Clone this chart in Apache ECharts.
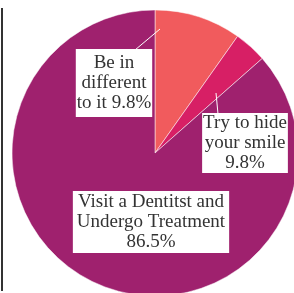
<!DOCTYPE html>
<html>
<head>
<meta charset="utf-8">
<script src="https://cdn.jsdelivr.net/npm/echarts@6/dist/echarts.min.js"></script>
<style>
  html, body { margin: 0; padding: 0; background: #fff; }
  #chart { width: 294px; height: 293px; }
</style>
</head>
<body>
<div id="chart"></div>
<script>
// responses, values in percent
const categories = ['Be in different to it', 'Try to hide your smile', 'Visit a Dentitst and Undergo Treatment'];
const values = [9.8, 3.7, 86.5];
const labelTexts = ['Be in\ndifferent\nto it 9.8%', 'Try to hide\nyour smile\n9.8%', 'Visit a Dentitst and\nUndergo Treatment\n86.5%'];
const colors = ['#f15b5d', '#d71f65', '#9f216e'];

// where the label boxes sit (box centres) and their leader lines
const labelPos = [[114, 83], [245, 143], [151, 222]];
const leaderLines = [[[160, 29], [135, 50]], [[216, 93], [218, 114]]];
const boxPadding = [[4, 1], [0, 1], [1, 4]];

const chart = echarts.init(document.getElementById('chart'));

// left rule + leader lines
const graphics = [{
  type: 'line',
  shape: { x1: 2, y1: 8, x2: 2, y2: 291 },
  style: { stroke: '#333', lineWidth: 2 }
}];
leaderLines.forEach(function (pts) {
  graphics.push({
    type: 'polyline',
    z: 10,
    shape: { points: pts },
    style: { stroke: '#fff', lineWidth: 1, fill: null }
  });
});

chart.setOption({
  animation: false,
  color: colors,
  graphic: graphics,
  series: [{
    type: 'pie',
    center: [155, 153],
    radius: 143,
    startAngle: 90,
    clockwise: true,
    avoidLabelOverlap: false,
    silent: true,
    itemStyle: { borderColor: '#fff', borderWidth: 0.5 },
    label: {
      position: 'outside',
      color: '#333',
      fontFamily: 'Liberation Serif',
      fontSize: 19,
      lineHeight: 20,
      align: 'center',
      backgroundColor: '#fff'
    },
    labelLine: { show: false },
    labelLayout: function (params) {
      const i = params.dataIndex;
      return {
        x: labelPos[i][0],
        y: labelPos[i][1],
        align: 'center',
        verticalAlign: 'middle'
      };
    },
    data: categories.map(function (name, i) {
      return {
        name: name,
        value: values[i],
        label: { formatter: labelTexts[i], padding: boxPadding[i] }
      };
    })
  }]
});
</script>
</body>
</html>
